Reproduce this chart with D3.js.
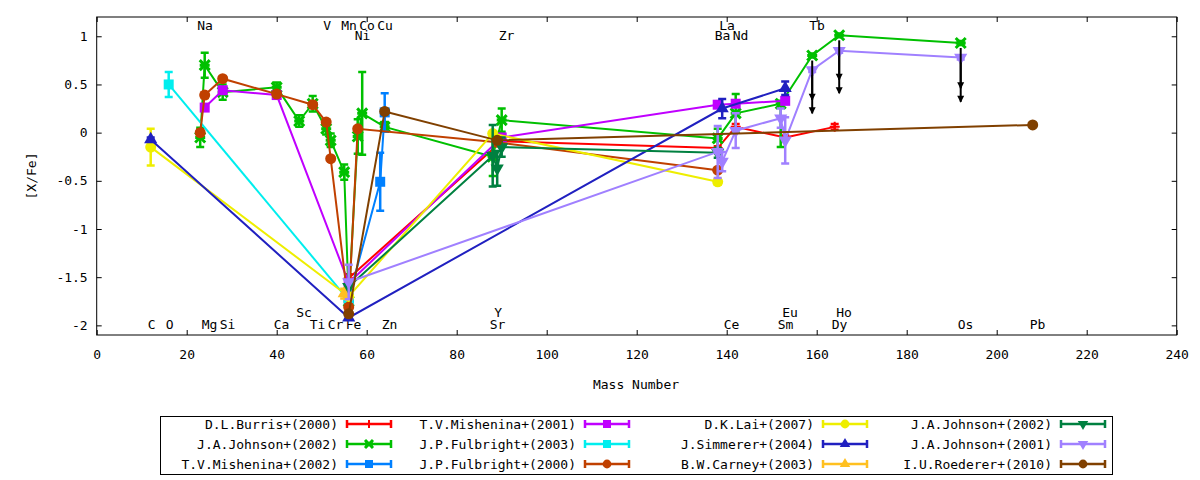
<!DOCTYPE html>
<html>
<head>
<meta charset="utf-8">
<script src="https://cdnjs.cloudflare.com/ajax/libs/d3/7.8.5/d3.min.js"></script>
<style>
body { margin: 0; background: #fff; }
text { font-family: "DejaVu Sans Mono", monospace; font-size: 13px; fill: #000; }
</style>
</head>
<body>
<svg id="chart" width="1200" height="480"></svg>
<script>
// each point: [mass number, [X/Fe], error] (optional 4th = upper error)
const burris2000 = [[56,-1.51,0.04],[90,-0.09,0.03],[138,-0.16,0.02],[142,0.06,0.03],[153,-0.05,0.02],[164,0.06,0.03]];
const johnson2002 = [[23,-0.05,0.1],[24,0.70,0.13],[28,0.42,0.08],[40,0.47,0.05],[45,0.12,0.06],[48,0.30,0.08],
    [51,0.04,0.06],[52,-0.08,0.07],[55,-0.41,0.08],[56,-1.75,0.05],[58,-0.04,0.18],[59,0.20,0.43],[64,0.06,0.05],
    [88,-0.25,0.2],[90,0.13,0.12],[138,-0.06,0.1],[142,0.20,0.2],[152,0.30,0.45,0.03],[159,0.80,0.02],[165,1.01,0.02],[192,0.93,0.02]];
const mishenina2002 = [[56,-1.72,0],[63,-0.51,0.3],[64,0.21,0.2]];
const mishenina2001 = [[24,0.26,0.03],[28,0.44,0.03],[40,0.39,0.03],[56,-1.56,0],[90,-0.05,0],[138,0.29,0.03],[142,0.30,0.03],[153,0.33,0.03]];
const fulbright2003 = [[16,0.50,0.13],[56,-1.74,0]];
const fulbright2000 = [[23,0.00,0.03],[24,0.39,0.03],[28,0.56,0.02],[40,0.40,0.02],[48,0.29,0.02],[51,0.11,0.02],
    [52,-0.27,0.02],[56,-1.81,0.03],[58,0.04,0.02],[89,-0.10,0],[138,-0.39,0]];
const lai2007 = [[12,-0.15,0.19],[56,-1.70,0],[88,-0.01,0],[138,-0.51,0.03]];
const simmerer2004 = [[12,-0.07,0.02],[56,-1.92,0],[139,0.25,0.1],[153,0.46,0.07]];
const carney2003 = [[55,-1.67,0.05]];
const johnson2002b = [[56,-1.60,0],[88,-0.24,0.32],[89,-0.37,0.18],[90,-0.15,0.1],[138,-0.21,0.05]];
const johnson2001 = [[56,-1.55,0.18],[138,-0.20,0.27],[139,-0.30,0.1],[142,0.02,0.18],[152,0.15,0.1],[153,-0.08,0.24],
    [159,0.65,0.02],[165,0.85,0.02],[192,0.78,0.02]];
const roederer2010 = [[56,-1.88,0],[64,0.22,0],[89,-0.08,0],[208,0.08,0]];

// upper limits: [mass, from, to]
const limitArrows = [[159,0.80,0.34],[159,0.65,0.20],[165,1.01,0.55],[165,0.85,0.41],[192,0.93,0.46],[192,0.78,0.32]];

const seriesNames = ["D.L.Burris+(2000)","J.A.Johnson+(2002)","T.V.Mishenina+(2002)",
    "T.V.Mishenina+(2001)","J.P.Fulbright+(2003)","J.P.Fulbright+(2000)",
    "D.K.Lai+(2007)","J.Simmerer+(2004)","B.W.Carney+(2003)",
    "J.A.Johnson+(2002)","J.A.Johnson+(2001)","I.U.Roederer+(2010)"];
const seriesData = [burris2000, johnson2002, mishenina2002, mishenina2001, fulbright2003, fulbright2000,
    lai2007, simmerer2004, carney2003, johnson2002b, johnson2001, roederer2010];
const seriesColors = ["#ff0000","#00c000","#0080ff","#c000ff","#00eeee","#c04000",
    "#eeee00","#2020c0","#ffc020","#008040","#a080ff","#804000"];
const seriesShapes = ["plus","star","square","square","square","circle",
    "circle","triangle","triangle","invtri","invtri","circle"];

const elemNames = ["C","O","Na","Mg","Si","Ca","Sc","Ti","V","Cr","Mn","Fe","Ni","Co","Cu","Zn",
    "Sr","Y","Zr","Ba","La","Ce","Nd","Sm","Eu","Tb","Dy","Ho","Os","Pb"];
const elemMass = [12,16,23,24,28,40,45,48,51,52,55,56,58,59,63,64,88,89,90,138,139,140,142,152,153,159,164,165,192,208];
const elemAt = [-2,-2,1.1,-2,-2,-2,-1.88,-2,1.1,-2,1.1,-2,1.0,1.1,1.1,-2,-2,-1.88,1.0,1.0,1.1,-2,1.0,-2,-1.88,1.1,-2,-1.88,-2,-2];

const xTicks = [0,20,40,60,80,100,120,140,160,180,200,220,240];
const yTicks = [-2,-1.5,-1,-0.5,0,0.5,1];

const svg = d3.select("#chart");
const x = d3.scaleLinear().domain([0, 240]).range([96.7, 1176.7]);
const y = d3.scaleLinear().domain([-2.1, 1.2]).range([335, 17]);

// axes, ticks pointing inward on all sides
svg.append("g").attr("transform", "translate(0,335)")
    .call(d3.axisBottom(x).tickValues(xTicks).tickSizeInner(-5).tickSizeOuter(0).tickPadding(15).tickFormat(d => String(d)));
svg.append("g").attr("transform", "translate(96.7,0)")
    .call(d3.axisLeft(y).tickValues(yTicks).tickSizeInner(-5).tickSizeOuter(0).tickPadding(9).tickFormat(d => String(d)));
svg.append("g").attr("transform", "translate(0,17)")
    .call(d3.axisTop(x).tickValues(xTicks).tickSizeInner(-5).tickSizeOuter(0).tickFormat(""));
svg.append("g").attr("transform", "translate(1176.7,0)")
    .call(d3.axisRight(y).tickValues(yTicks).tickSizeInner(-5).tickSizeOuter(0).tickFormat(""));
svg.selectAll(".domain").remove();
svg.selectAll(".tick line").attr("stroke", "#000");
svg.selectAll(".tick text").style("font-family", "DejaVu Sans Mono").style("font-size", "13px");
svg.append("rect").attr("x", 96.7).attr("y", 17).attr("width", 1080).attr("height", 318)
    .attr("fill", "none").attr("stroke", "#000");

svg.append("text").attr("x", 636).attr("y", 384).attr("text-anchor", "middle")
    .attr("dominant-baseline", "central").text("Mass Number");
svg.append("text").attr("transform", "translate(31,176) rotate(-90)").attr("text-anchor", "middle")
    .attr("dominant-baseline", "central").text("[X/Fe]");

// element names
svg.append("g").selectAll("text").data(elemNames).join("text")
    .attr("x", (d, i) => x(elemMass[i]) - 3)
    .attr("y", (d, i) => y(elemAt[i]) - 1)
    .attr("dominant-baseline", "central")
    .text(d => d);

function drawMarker(g, shape, cx, cy, color, k) {
    const r = 5 * k;
    if (shape === "plus") {
        g.append("path").attr("d", `M${cx - r},${cy}H${cx + r}M${cx},${cy - r}V${cy + r}`)
            .attr("stroke", color).attr("stroke-width", 2).attr("fill", "none");
    } else if (shape === "star") {
        g.append("path")
            .attr("d", `M${cx - r},${cy - r}L${cx + r},${cy + r}M${cx - r},${cy + r}L${cx + r},${cy - r}M${cx - r},${cy}H${cx + r}`)
            .attr("stroke", color).attr("stroke-width", 3).attr("fill", "none");
    } else {
        const types = { square: d3.symbolSquare, circle: d3.symbolCircle, triangle: d3.symbolTriangle,
            invtri: d3.symbolTriangle, diamond: d3.symbolDiamond };
        const sizes = { square: 100, circle: 95, triangle: 75, invtri: 75, diamond: 90 };
        g.append("path").attr("d", d3.symbol(types[shape], sizes[shape] * k * k)())
            .attr("transform", `translate(${cx},${cy})` + (shape === "invtri" ? " rotate(180)" : ""))
            .attr("fill", color);
    }
}

const line = d3.line().x(d => x(d[0])).y(d => y(d[1]));

seriesData.forEach((data, s) => {
    const color = seriesColors[s];
    const g = svg.append("g");
    g.append("path").datum(data).attr("d", line)
        .attr("fill", "none").attr("stroke", color).attr("stroke-width", 2);
    data.forEach(p => {
        const lo = p[2], hi = p.length > 3 ? p[3] : p[2];
        if (lo > 0 || hi > 0) {
            const px = x(p[0]), y0 = y(p[1] - lo), y1 = y(p[1] + hi);
            g.append("path")
                .attr("d", `M${px},${y0}V${y1}M${px - 4},${y0}H${px + 4}M${px - 4},${y1}H${px + 4}`)
                .attr("stroke", color).attr("stroke-width", 2.5).attr("fill", "none");
        }
        drawMarker(g, seriesShapes[s], x(p[0]), y(p[1]), color, 1);
    });
});

// upper-limit arrows
const arrows = svg.append("g");
limitArrows.forEach(a => {
    const px = x(a[0]), y0 = y(a[1]) + 5, y1 = y(a[2]);
    arrows.append("line").attr("x1", px).attr("x2", px).attr("y1", y0).attr("y2", y1)
        .attr("stroke", "#000").attr("stroke-width", 2);
    arrows.append("path").attr("d", `M${px - 3.5},${y1 - 6}L${px + 3.5},${y1 - 6}L${px},${y1 + 1}Z`)
        .attr("fill", "#000");
});

// legend
const legend = svg.append("g");
legend.append("rect").attr("x", 160.5).attr("y", 416.5).attr("width", 952).attr("height", 58)
    .attr("fill", "#fff").attr("stroke", "#000");
seriesNames.forEach((name, s) => {
    const col = Math.floor(s / 3), row = s % 3;
    const tx = 338 + col * 238, ty = 424 + row * 20;
    const color = seriesColors[s];
    legend.append("text").attr("x", tx).attr("y", ty).attr("text-anchor", "end")
        .attr("dominant-baseline", "central").text(name);
    const x0 = tx + 9, x1 = tx + 53;
    legend.append("path").attr("d", `M${x0},${ty}H${x1}M${x0},${ty - 4}V${ty + 4}M${x1},${ty - 4}V${ty + 4}`)
        .attr("stroke", color).attr("stroke-width", 2.5).attr("fill", "none");
    drawMarker(legend, seriesShapes[s], (x0 + x1) / 2, ty, color, 0.8);
});
</script>
</body>
</html>
